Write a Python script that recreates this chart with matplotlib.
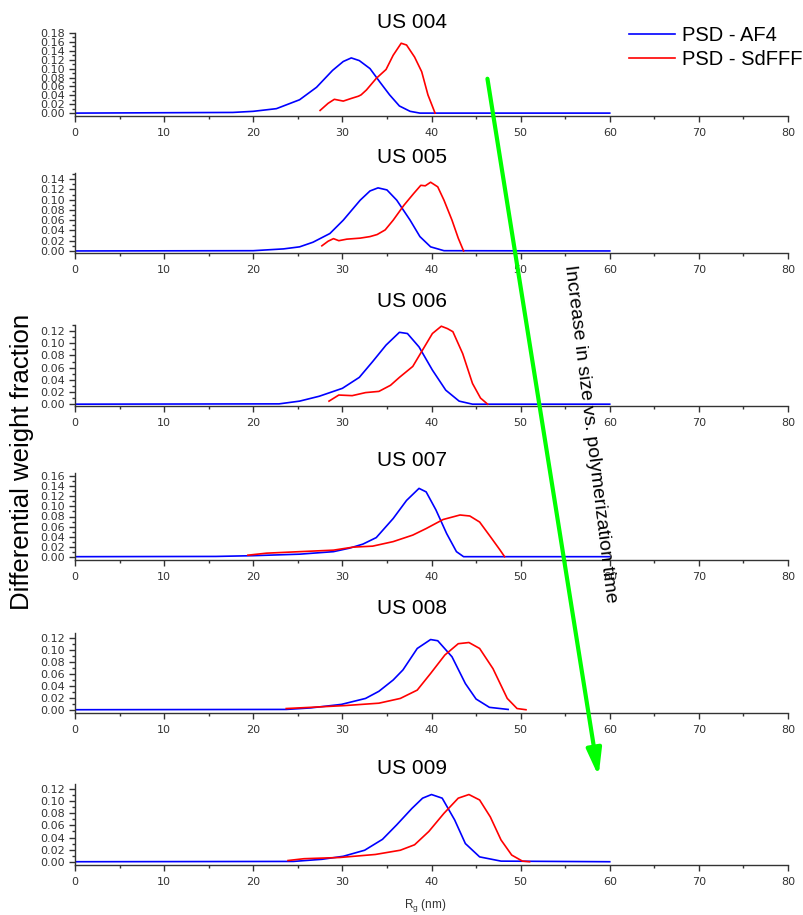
import numpy as np
import matplotlib.pyplot as plt
from matplotlib.patches import FancyArrowPatch
from matplotlib.ticker import MultipleLocator

W, H = 804, 915  # figure size in pixels (dpi 100)

samples = ['US 004', 'US 005', 'US 006', 'US 007', 'US 008', 'US 009']

# PSD - AF4 (Rg in nm, differential weight fraction)
af4_x_004 = [0, 17.7, 20.0, 22.6, 25.2, 27.1, 28.9, 30.1, 31.0, 31.9, 33.1, 34.2, 35.3, 36.4, 37.6, 38.7, 60]
af4_y_004 = [0, 0.0015, 0.004, 0.010, 0.030, 0.058, 0.096, 0.116, 0.124, 0.118, 0.100, 0.070, 0.041, 0.016, 0.004, 0.0, 0]
af4_x_005 = [0, 20.0, 23.4, 25.2, 26.7, 28.6, 30.1, 32.0, 33.1, 34.0, 35.0, 36.1, 37.6, 38.7, 39.9, 41.4, 60]
af4_y_005 = [0, 0.0005, 0.004, 0.008, 0.017, 0.034, 0.060, 0.099, 0.117, 0.123, 0.119, 0.099, 0.060, 0.028, 0.008, 0.0005, 0]
af4_x_006 = [0, 22.9, 25.2, 27.4, 30.0, 31.9, 33.4, 34.9, 36.4, 37.3, 38.6, 40.1, 41.6, 43.1, 44.6, 60]
af4_y_006 = [0, 0.0005, 0.005, 0.013, 0.026, 0.044, 0.070, 0.097, 0.118, 0.116, 0.094, 0.056, 0.023, 0.005, 0, 0]
af4_x_007 = [0, 15.8, 20.0, 25.2, 29.0, 30.8, 32.3, 33.8, 35.7, 37.2, 38.6, 39.4, 40.5, 41.7, 42.8, 43.6, 60]
af4_y_007 = [0, 0.0005, 0.002, 0.005, 0.010, 0.017, 0.025, 0.038, 0.076, 0.112, 0.136, 0.129, 0.093, 0.046, 0.010, 0, 0]
af4_x_008 = [0, 23.7, 26.4, 29.9, 32.6, 34.1, 35.7, 36.8, 38.4, 39.9, 40.7, 42.3, 43.8, 45.0, 46.5, 48.6]
af4_y_008 = [0, 0.0005, 0.003, 0.009, 0.019, 0.031, 0.050, 0.067, 0.103, 0.118, 0.116, 0.089, 0.044, 0.018, 0.004, 0.0005]
af4_x_009 = [0, 24.5, 27.7, 30.1, 32.5, 34.5, 36.1, 37.8, 39.0, 40.0, 41.2, 42.6, 43.8, 45.4, 47.8, 60]
af4_y_009 = [0, 0.0005, 0.004, 0.009, 0.019, 0.037, 0.061, 0.088, 0.105, 0.111, 0.105, 0.069, 0.030, 0.008, 0.001, 0]

# PSD - SdFFF
sd_x_004 = [27.5, 28.4, 29.1, 30.1, 31.0, 31.8, 32.1, 32.7, 33.8, 34.9, 35.7, 36.6, 37.2, 38.1, 38.9, 39.6, 40.4]
sd_y_004 = [0.006, 0.022, 0.031, 0.027, 0.033, 0.038, 0.041, 0.052, 0.078, 0.098, 0.130, 0.157, 0.153, 0.126, 0.093, 0.041, 0.0]
sd_x_005 = [27.7, 28.4, 29.0, 29.6, 30.5, 32.0, 33.1, 33.9, 34.8, 35.7, 36.9, 38.0, 38.8, 39.3, 39.9, 40.7, 41.4, 42.3, 43.0, 43.6]
sd_y_005 = [0.010, 0.019, 0.024, 0.020, 0.023, 0.025, 0.028, 0.032, 0.041, 0.060, 0.089, 0.112, 0.128, 0.127, 0.134, 0.125, 0.099, 0.060, 0.025, 0.0]
sd_x_006 = [28.5, 29.6, 31.1, 32.6, 34.1, 35.4, 36.4, 37.9, 39.0, 40.1, 41.1, 41.8, 42.4, 43.5, 44.6, 45.5, 46.3]
sd_y_006 = [0.005, 0.015, 0.014, 0.019, 0.021, 0.031, 0.044, 0.062, 0.089, 0.116, 0.128, 0.124, 0.119, 0.083, 0.034, 0.010, 0.0]
sd_x_007 = [19.4, 21.5, 25.2, 29.0, 31.2, 33.4, 35.7, 37.9, 39.4, 41.3, 43.2, 44.3, 45.4, 46.6, 47.7, 48.2]
sd_y_007 = [0.003, 0.007, 0.010, 0.013, 0.019, 0.021, 0.030, 0.043, 0.056, 0.074, 0.083, 0.081, 0.069, 0.040, 0.013, 0.0]
sd_x_008 = [23.7, 26.4, 30.3, 34.1, 36.5, 38.4, 39.9, 41.5, 43.0, 44.2, 45.4, 46.9, 48.5, 49.6, 50.6]
sd_y_008 = [0.002, 0.004, 0.007, 0.011, 0.019, 0.033, 0.061, 0.092, 0.111, 0.113, 0.103, 0.069, 0.019, 0.002, 0.0]
sd_x_009 = [23.9, 25.7, 29.7, 33.7, 36.5, 38.1, 39.7, 41.4, 43.0, 44.2, 45.4, 46.6, 47.8, 49.0, 50.2, 51.0]
sd_y_009 = [0.002, 0.005, 0.007, 0.012, 0.019, 0.028, 0.050, 0.080, 0.105, 0.111, 0.102, 0.074, 0.036, 0.011, 0.001, 0.0]

af4 = [(af4_x_004, af4_y_004), (af4_x_005, af4_y_005), (af4_x_006, af4_y_006),
       (af4_x_007, af4_y_007), (af4_x_008, af4_y_008), (af4_x_009, af4_y_009)]
sdfff = [(sd_x_004, sd_y_004), (sd_x_005, sd_y_005), (sd_x_006, sd_y_006),
         (sd_x_007, sd_y_007), (sd_x_008, sd_y_008), (sd_x_009, sd_y_009)]

# panel layout in pixels: (top, bottom), y-range, highest labelled tick, title height
boxes = [(33, 116), (173, 253), (325, 406), (473, 560), (633, 713), (784, 865)]
ylims = [(-0.0065, 0.18), (-0.004, 0.152), (-0.003, 0.13),
         (-0.0066, 0.1666), (-0.0055, 0.129), (-0.0054, 0.1284)]
ytop = [0.18, 0.14, 0.12, 0.16, 0.12, 0.12]
title_y = [22.5, 157.5, 301.7, 460, 609, 768]

sans = ['Liberation Sans', 'DejaVu Sans']
grey = '#333333'

fig = plt.figure(figsize=(W / 100, H / 100), dpi=100)

for i, (top, bot) in enumerate(boxes):
    ax = fig.add_axes([75 / W, 1 - bot / H, 713 / W, (bot - top) / H])
    ax.plot(*af4[i], color='#0000ff', lw=1.2, label='PSD - AF4')
    ax.plot(*sdfff[i], color='#ff0000', lw=1.2, label='PSD - SdFFF')
    ax.set_xlim(0, 80)
    ax.set_ylim(*ylims[i])
    ax.set_xticks(np.arange(0, 81, 10))
    ax.xaxis.set_minor_locator(MultipleLocator(5))
    ax.set_yticks(np.arange(0, ytop[i] + 1e-6, 0.02))
    ax.yaxis.set_minor_locator(MultipleLocator(0.01))
    ax.set_yticklabels(['%.2f' % v for v in np.arange(0, ytop[i] + 1e-6, 0.02)])
    for s in ('top', 'right'):
        ax.spines[s].set_visible(False)
    for s in ('left', 'bottom'):
        ax.spines[s].set_color(grey)
        ax.spines[s].set_linewidth(1.0)
    ax.tick_params(which='major', direction='out', length=4.5, width=1.0,
                   color=grey, labelcolor=grey, labelsize=8)
    ax.tick_params(which='minor', direction='out', length=2.5, width=1.0, color=grey)
    ax.tick_params(axis='y', pad=2.5)
    ax.tick_params(axis='x', pad=4)
    fig.text(412 / W, 1 - title_y[i] / H, samples[i], ha='center', va='center',
             fontsize=15, family=sans)
    if i == 0:
        handles = ax.get_lines()

fig.legend(handles, ['PSD - AF4', 'PSD - SdFFF'], loc='upper left',
           bbox_to_anchor=(629 / W, 1 - 26 / H), frameon=False,
           prop={'family': sans, 'size': 14.5}, handlelength=2.3,
           handletextpad=0.35, labelspacing=0.25, borderpad=0, borderaxespad=0)

fig.text(22 / W, 1 - 462 / H, 'Differential weight fraction', rotation=90,
         ha='center', va='center', fontsize=18.5, family=sans)
fig.text(425 / W, 1 - 906 / H, r'R$_\mathregular{g}$ (nm)', ha='center', va='center',
         fontsize=8.5, color=grey, family=sans)

# trend arrow across the panels
arrow = FancyArrowPatch((487 / W, 1 - 76 / H), (599 / W, 1 - 779 / H),
                        transform=fig.transFigure,
                        arrowstyle='-|>,head_length=1.6,head_width=0.45',
                        mutation_scale=10, lw=3, color='#00ff00')
fig.add_artist(arrow)
fig.text(590 / W, 1 - 434 / H, 'Increase in size vs. polymerization time',
         rotation=-83, rotation_mode='anchor', ha='center', va='center',
         fontsize=14, family=sans)

fig.savefig('out.png', dpi=100)
